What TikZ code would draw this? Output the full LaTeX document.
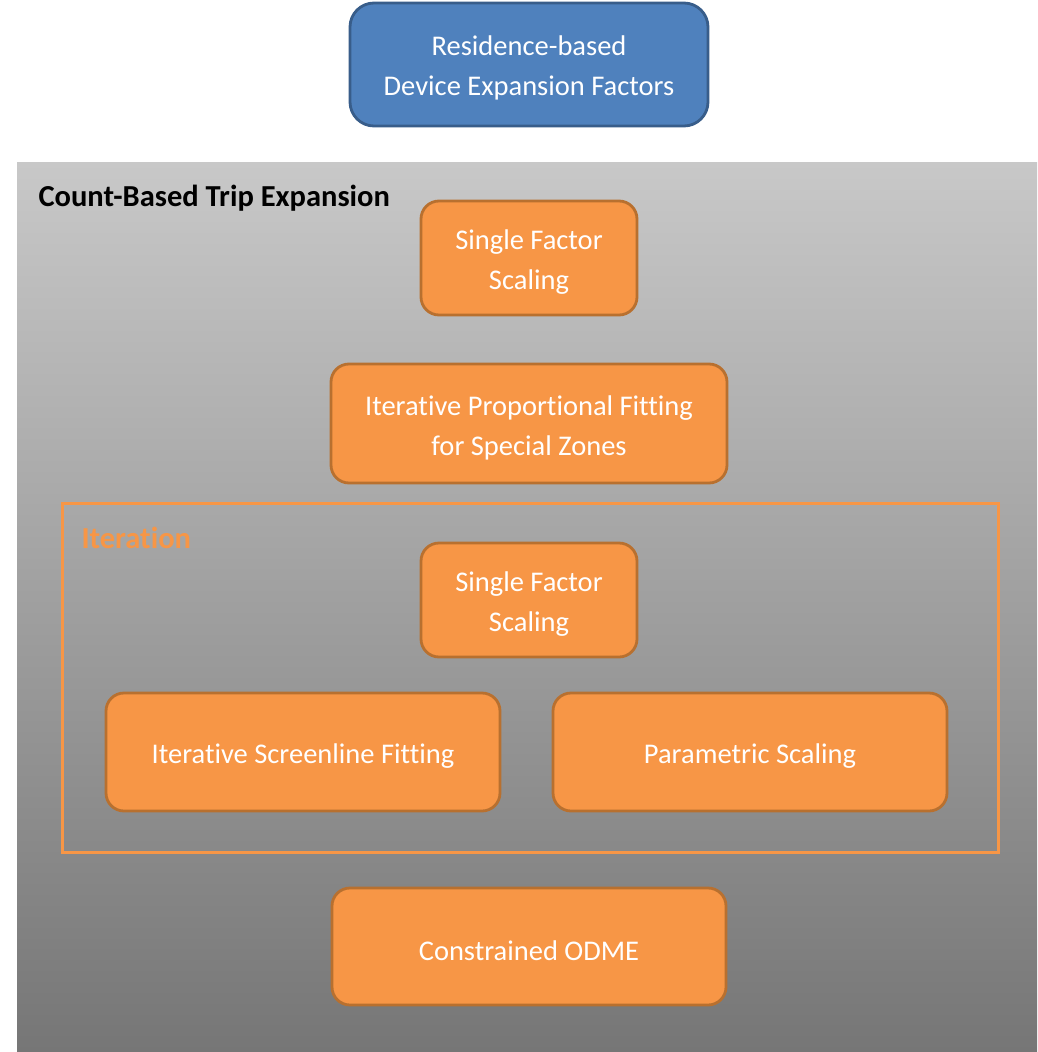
\documentclass[tikz,border=0pt]{standalone}
\usepackage{fontspec}
\setmainfont{Carlito}[RawFeature=-liga]
\definecolor{bluefill}{HTML}{4F81BD}
\definecolor{blueline}{HTML}{385D8A}
\definecolor{orfill}{HTML}{F79646}
\definecolor{orline}{HTML}{B8702F}
\definecolor{greytop}{HTML}{C8C8C8}
\definecolor{greybot}{HTML}{767676}
\begin{document}
\begin{tikzpicture}[x=1pt,y=-1pt,
  boxtext/.style={text=white, align=center, font=\fontsize{28.5}{40}\selectfont, inner sep=0pt, yshift=-4pt},
  orbox/.style={draw=orline, line width=2.8pt, fill=orfill, rounded corners=18pt, inner sep=0pt},
  bluebox/.style={draw=blueline, line width=2.8pt, fill=bluefill, rounded corners=24pt, inner sep=0pt}]
\useasboundingbox (0,0) rectangle (1037,1052);
\fill[white] (0,0) rectangle (1037,1052);
\shade[top color=greytop, bottom color=greybot] (17,162) rectangle (1037,1052);
\node[anchor=west, font=\fontsize{30.5}{34}\selectfont\bfseries] (title) at (35,198) {Count-Based Trip Expansion};
\node[bluebox, minimum width=358pt, minimum height=123pt, label={[boxtext, yshift=1pt]center:Residence-based\\Device Expansion Factors}] (res) at (529,64.5) {};
\node[orbox, minimum width=216pt, minimum height=114pt, label={[boxtext]center:Single Factor\\Scaling}] (sfs1) at (529,258) {};
\node[orbox, minimum width=396pt, minimum height=119pt, label={[boxtext]center:Iterative Proportional Fitting\\for Special Zones}] (ipf) at (529,423.5) {};
\node[draw=orfill, line width=3pt, minimum width=936pt, minimum height=349pt, inner sep=0pt] (iter) at (530,677.5) {};
\node[anchor=west, text=orfill, font=\fontsize{30.5}{34}\selectfont\bfseries] (iterlabel) at (78,538) {Iteration};
\node[orbox, minimum width=216pt, minimum height=114pt, label={[boxtext]center:Single Factor\\Scaling}] (sfs2) at (529,600) {};
\node[orbox, minimum width=394pt, minimum height=118pt, label={[boxtext]center:Iterative Screenline Fitting}] (isf) at (303,752) {};
\node[orbox, minimum width=394pt, minimum height=118pt, label={[boxtext]center:Parametric Scaling}] (ps) at (750,752) {};
\node[orbox, minimum width=394pt, minimum height=117pt, label={[boxtext]center:Constrained ODME}] (odme) at (529,946.5) {};
\end{tikzpicture}
\end{document}
